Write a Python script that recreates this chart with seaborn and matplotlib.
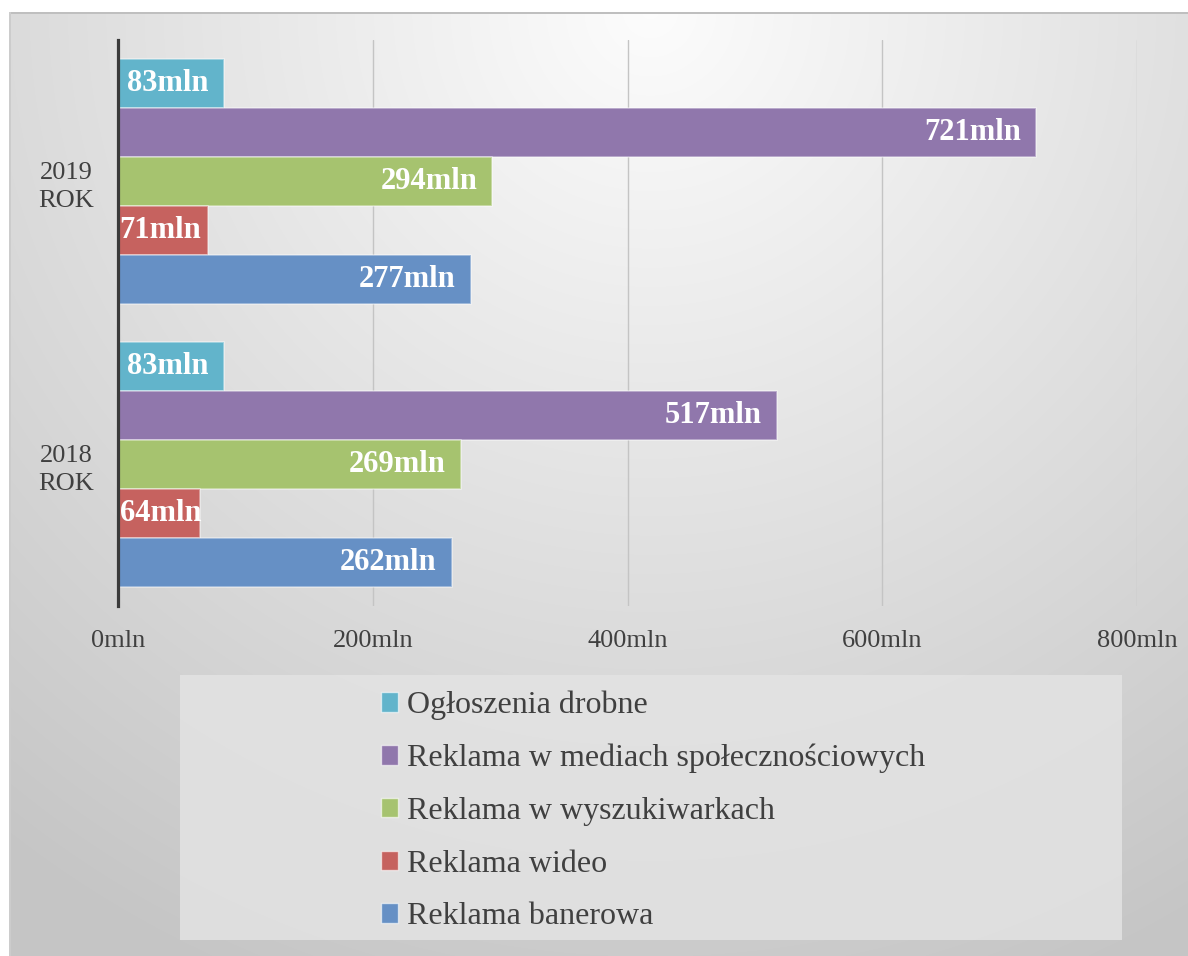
import numpy as np
import pandas as pd
import matplotlib
matplotlib.use("Agg")
import matplotlib.pyplot as plt
import seaborn as sns
from matplotlib.patches import Rectangle

# ---- data ----
years = ["2019 ROK", "2018 ROK"]
year_labels = ["2019\nROK", "2018\nROK"]
categories = ["Ogłoszenia drobne", "Reklama w mediach społecznościowych",
              "Reklama w wyszukiwarkach", "Reklama wideo", "Reklama banerowa"]
values_2019 = [83, 721, 294, 71, 277]
values_2018 = [83, 517, 269, 64, 262]
colors = ["#62B4CB", "#9077AC", "#A6C36F", "#C6625F", "#6690C5"]
xticks = [0, 200, 400, 600, 800]

rows = []
for y, vals in zip(years, [values_2019, values_2018]):
    for c, v in zip(categories, vals):
        rows.append({"year": y, "category": c, "value": v})
df = pd.DataFrame(rows)

sns.set_theme(style="white")
plt.rcParams['font.family'] = ['Liberation Serif', 'DejaVu Serif']

W, H = 1188, 956
fig = plt.figure(figsize=(W / 100, H / 100), dpi=100)

# background gradient
bg = fig.add_axes([0, 0, 1, 1], zorder=-10)
yy, xx = np.mgrid[0:H, 0:W]
d = np.sqrt((xx - 650.0) ** 2 + ((yy - 10.0) * 1.0) ** 2)
v = np.clip(0.99 - 0.000205 * d, 0.775, 1.0)
img = np.dstack([v, v, v])
img[:12, :, :] = 1.0
img[:, :9, :] = 1.0
img[12:14, 9:, :] = 0.75
img[12:, 9:11, :] = 0.80
bg.imshow(img, extent=[0, W, H, 0], aspect='auto', interpolation='bilinear')
bg.set_xlim(0, W)
bg.set_ylim(H, 0)
bg.axis('off')

# legend box background
fig.patches.append(Rectangle((180 / W, 1 - 940 / H), (1122 - 180) / W, (940 - 675) / H,
                             transform=fig.transFigure, facecolor="#e3e3e3",
                             edgecolor="none", zorder=-5, alpha=0.85))

ax = fig.add_axes([118 / W, 1 - 606 / H, (1137 - 118) / W, (606 - 40) / H])
ax.patch.set_alpha(0)

sns.barplot(data=df, y="year", x="value", hue="category", order=years,
            hue_order=categories, palette=colors, orient="h", width=0.867,
            saturation=1, edgecolor=(1, 1, 1, 0.45), linewidth=1.2, ax=ax,
            legend=False)

ax.set_xlim(0, 800)
ax.set_xticks(xticks)
ax.set_xticklabels([f"{t}mln" for t in xticks])
ax.set_yticks(range(len(years)))
ax.set_yticklabels(year_labels, ha="center", multialignment="center", linespacing=1.35)
ax.set_xlabel("")
ax.set_ylabel("")
ax.tick_params(axis="x", length=0, pad=17, labelsize=19, labelcolor="#404040")
ax.tick_params(axis="y", length=0, pad=37, labelsize=19, labelcolor="#404040")
ax.grid(axis="x", color="#c4c4c4", linewidth=1)
ax.set_axisbelow(True)
for s in ["top", "right", "bottom"]:
    ax.spines[s].set_visible(False)
ax.spines["left"].set_color("#3a3a3a")
ax.spines["left"].set_linewidth(2.3)
ax.spines["left"].set_zorder(5)

# value labels
for cont in ax.containers:
    for bar in cont:
        val = bar.get_width()
        yc = bar.get_y() + bar.get_height() / 2
        xr = max(val - 12, 65.5)
        ax.text(xr, yc, f"{int(round(val))}mln", ha="right", va="center",
                color="white", fontsize=22, fontweight="bold", zorder=6)

# legend
handles = [Rectangle((0, 0), 1, 1, facecolor=c, edgecolor=(1, 1, 1, 0.6), linewidth=1)
           for c in colors]
fig.legend(handles, categories, loc="center", bbox_to_anchor=(653 / W, 1 - 811 / H),
           frameon=False, fontsize=23, labelcolor="#404040", handlelength=0.55,
           handleheight=0.55, handletextpad=0.28, labelspacing=0.74)

fig.savefig("out.png", dpi=100)
